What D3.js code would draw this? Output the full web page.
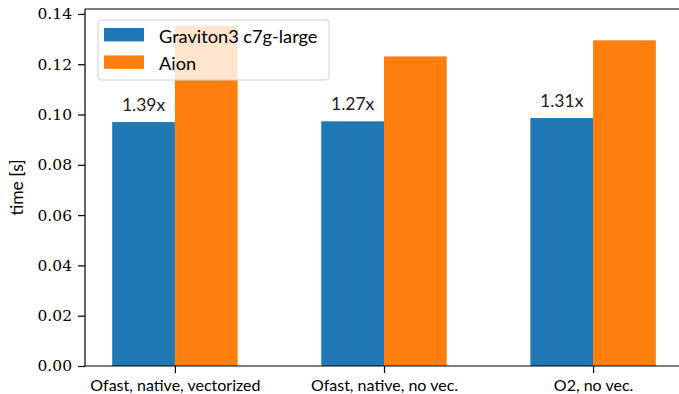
<!DOCTYPE html>
<html>
<head>
<meta charset="utf-8">
<script src="https://cdn.jsdelivr.net/npm/d3@7"></script>
<style>
  html, body { margin: 0; padding: 0; background: #fff; }
  svg { display: block; }
</style>
</head>
<body>
<svg id="chart" width="679" height="394"></svg>
<script>
// Benchmark runtimes per compiler configuration
const categories = ["Ofast, native, vectorized", "Ofast, native, no vec.", "O2, no vec."];
const seriesNames = ["Graviton3 c7g-large", "Aion"];
const graviton = [0.0970, 0.0973, 0.0986];
const aion = [0.1352, 0.1231, 0.1295];
const speedupLabels = ["1.39x", "1.27x", "1.31x"];
const yTicks = [0.00, 0.02, 0.04, 0.06, 0.08, 0.10, 0.12, 0.14];
const colors = ["#1f77b4", "#ff7f0e"];

const SANS = "Lato, 'DejaVu Sans', sans-serif";
const SERIF = "'DejaVu Serif', 'Liberation Serif', serif";

const plot = { left: 85, top: 9, bottom: 366, right: 683 };
const barW = 0.3;

const svg = d3.select("#chart");

// matplotlib-style limits: 5% margin on x, 5% headroom on y
const xMin = -barW, xMax = categories.length - 1 + barW;
const xPad = (xMax - xMin) * 0.05;
const x = d3.scaleLinear().domain([xMin - xPad, xMax + xPad]).range([plot.left, plot.right]);
const yMax = d3.max(aion.concat(graviton)) * 1.05;
const y = d3.scaleLinear().domain([0, yMax]).range([plot.bottom, plot.top]);

const series = [graviton, aion];
const offsets = [-barW / 2, barW / 2];

// bars
series.forEach((vals, s) => {
  svg.append("g").selectAll("rect").data(vals).join("rect")
    .attr("x", (d, i) => x(i + offsets[s] - barW / 2))
    .attr("width", x(barW) - x(0))
    .attr("y", d => y(d))
    .attr("height", d => y(0) - y(d))
    .attr("fill", colors[s]);
});

// speedup annotations above the Graviton bars
svg.append("g").selectAll("text").data(graviton).join("text")
  .style("font-family", SANS)
  .attr("x", (d, i) => x(i + offsets[0]))
  .attr("y", d => y(d) - 11)
  .attr("text-anchor", "middle")
  .attr("font-size", 17.5)
  .attr("fill", "#222")
  .text((d, i) => speedupLabels[i]);

// y axis
const yAxis = d3.axisLeft(y).tickValues(yTicks).tickFormat(d3.format(".2f")).tickSize(7).tickPadding(6);
const gy = svg.append("g").attr("transform", `translate(${plot.left},0)`).call(yAxis);
gy.select(".domain").remove();
gy.selectAll("text").style("font-family", SERIF).style("font-size", "15.5px").attr("fill", "#000");
gy.selectAll("line").attr("stroke", "#000").attr("stroke-width", 1.2);

// x axis
const xAxis = d3.axisBottom(x).tickValues(d3.range(categories.length)).tickFormat((d, i) => categories[i]).tickSize(7).tickPadding(6);
const gx = svg.append("g").attr("transform", `translate(0,${plot.bottom})`).call(xAxis);
gx.select(".domain").remove();
gx.selectAll("text").style("font-family", SANS).style("font-size", "16px").attr("fill", "#000").attr("dy", "0.75em");
gx.selectAll("line").attr("stroke", "#000").attr("stroke-width", 1.2);

// spines
const spine = svg.append("g").attr("stroke", "#000").attr("stroke-width", 1.2).attr("fill", "none");
spine.append("line").attr("x1", plot.left).attr("x2", plot.left).attr("y1", plot.top).attr("y2", plot.bottom);
spine.append("line").attr("x1", plot.left).attr("x2", plot.right).attr("y1", plot.bottom).attr("y2", plot.bottom);
spine.append("line").attr("x1", plot.left).attr("x2", plot.right).attr("y1", plot.top).attr("y2", plot.top);
spine.append("line").attr("x1", plot.right).attr("x2", plot.right).attr("y1", plot.top).attr("y2", plot.bottom);

// y label
svg.append("text")
  .style("font-family", SANS)
  .attr("transform", `translate(23,${(plot.top + plot.bottom) / 2}) rotate(-90)`)
  .attr("text-anchor", "middle")
  .attr("font-size", 17.5)
  .text("time [s]");

// legend
const lg = svg.append("g").attr("transform", "translate(98,20)");
lg.append("rect").attr("width", 231).attr("height", 60).attr("rx", 3)
  .attr("fill", "rgba(255,255,255,0.8)").attr("stroke", "#d0d0d0").attr("stroke-width", 1);
seriesNames.forEach((name, i) => {
  lg.append("rect").attr("x", 6).attr("y", 8 + i * 27.4).attr("width", 40).attr("height", 13.4).attr("fill", colors[i]);
  lg.append("text").style("font-family", SANS).attr("x", 61).attr("y", 22.5 + i * 27).attr("font-size", 18.2).attr("fill", "#000").text(name);
});
</script>
</body>
</html>
